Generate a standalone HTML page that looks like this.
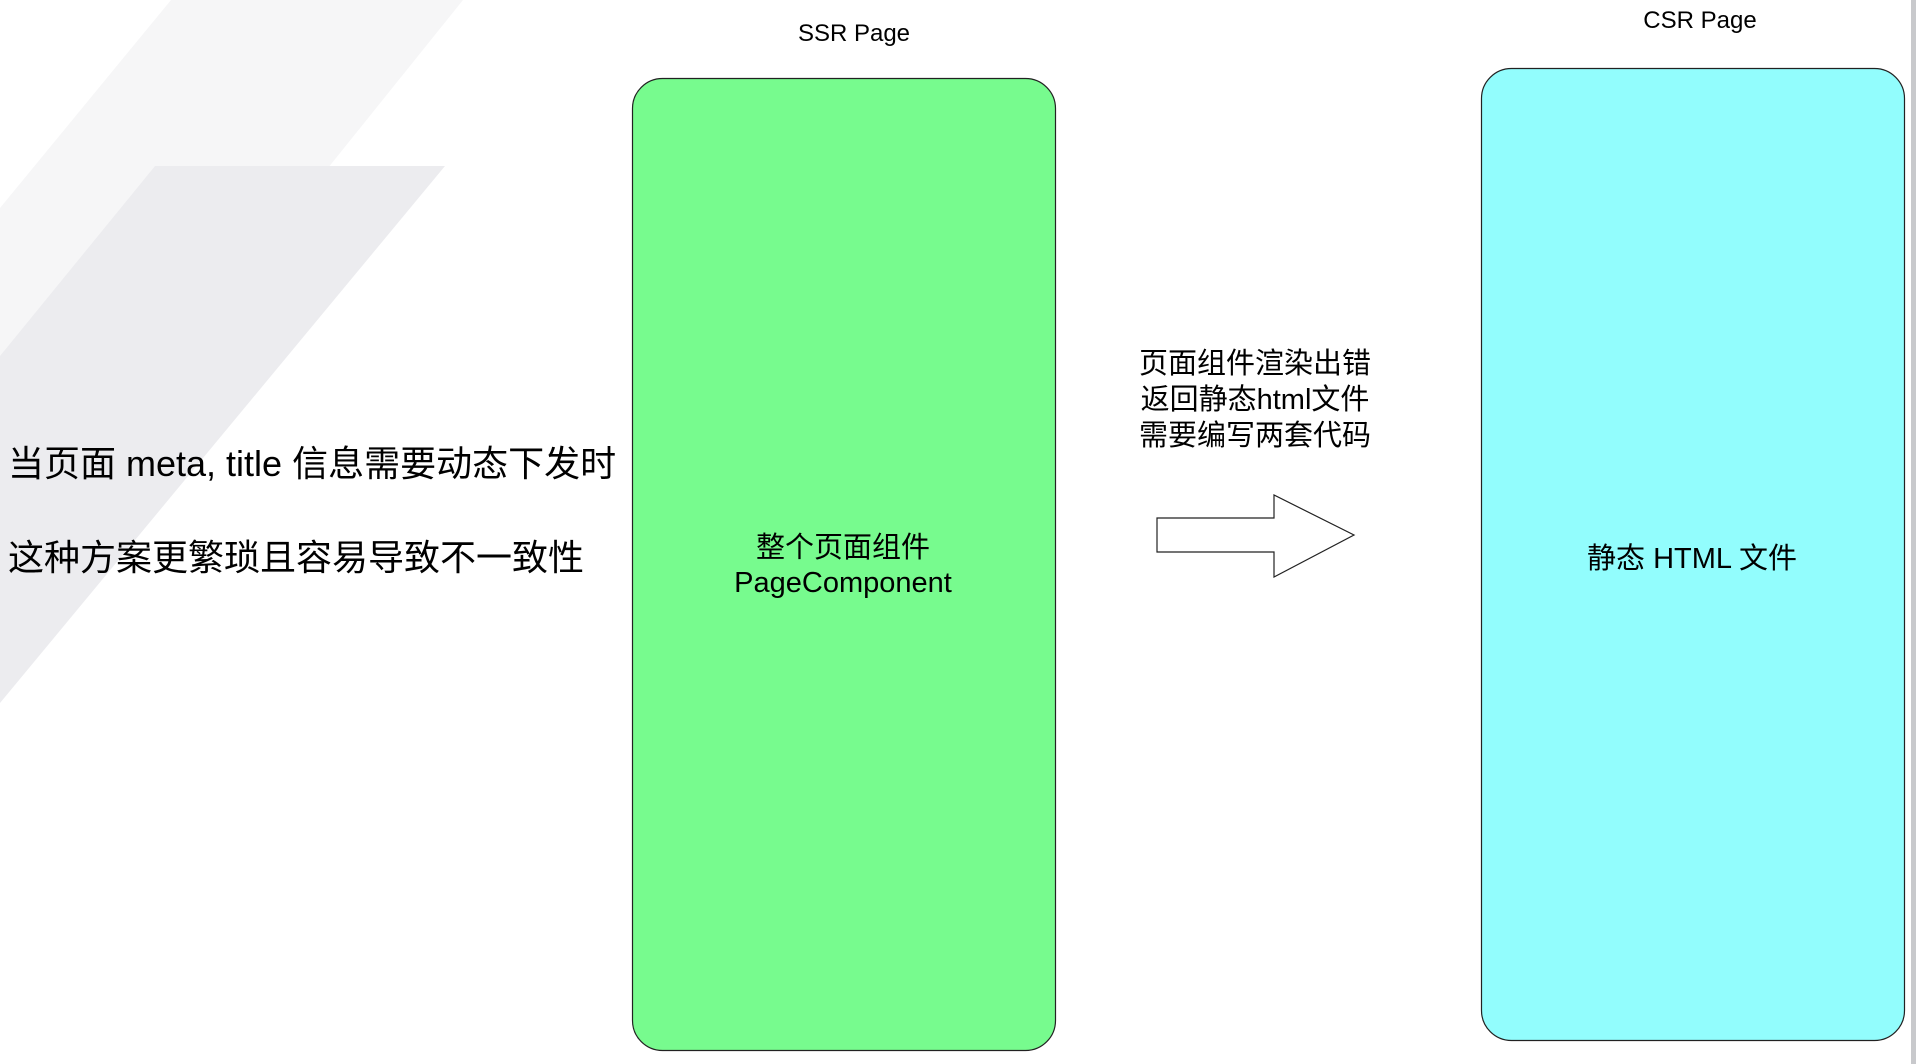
<!DOCTYPE html>
<html><head><meta charset="utf-8"><style>
html,body{margin:0;padding:0;width:1916px;height:1064px;overflow:hidden;background:#fff;font-family:"Liberation Sans","Noto Sans CJK SC",sans-serif;color:#000}
.t{position:absolute;white-space:nowrap;transform:translate(-50%,-50%)}
.l{position:absolute;white-space:nowrap;font-size:36px;left:8px;transform:translateY(-50%)}
</style></head><body>
<svg width="1916" height="1064" style="position:absolute;left:0;top:0">
<polygon points="171,0 463,0 0,576 0,208" fill="#f6f6f7"/>
<polygon points="155,166 445,166 0,703 0,356" fill="#ececef"/>
<rect x="632.5" y="78.5" width="423" height="972" rx="30" fill="#77fb8e" stroke="#222" stroke-width="1.2"/>
<rect x="1481.5" y="68.5" width="423" height="972" rx="30" fill="#92fdfd" stroke="#222" stroke-width="1.2"/>
<polygon points="1157,518 1274,518 1274,495 1354,535 1274,577 1274,552 1157,552" fill="#fff" stroke="#222" stroke-width="1.2"/>
<rect x="1911" y="0" width="5" height="1064" fill="#c8c9cc"/>
</svg>
<div class="t" style="left:854px;top:34px;font-size:24px">SSR Page</div>
<div class="t" style="left:1700px;top:21px;font-size:24px">CSR Page</div>
<div class="t" style="left:843px;top:566px;font-size:29px;text-align:center;line-height:35px">整个页面组件<br>PageComponent</div>
<div class="t" style="left:1692px;top:556px;font-size:29px">静态 HTML 文件</div>
<div class="t" style="left:1255px;top:400px;font-size:29px;text-align:center;line-height:36px">页面组件渲染出错<br>返回静态html文件<br>需要编写两套代码</div>
<div class="l" style="top:461px">当页面 meta, title 信息需要动态下发时</div>
<div class="l" style="top:555px">这种方案更繁琐且容易导致不一致性</div>
</body></html>
